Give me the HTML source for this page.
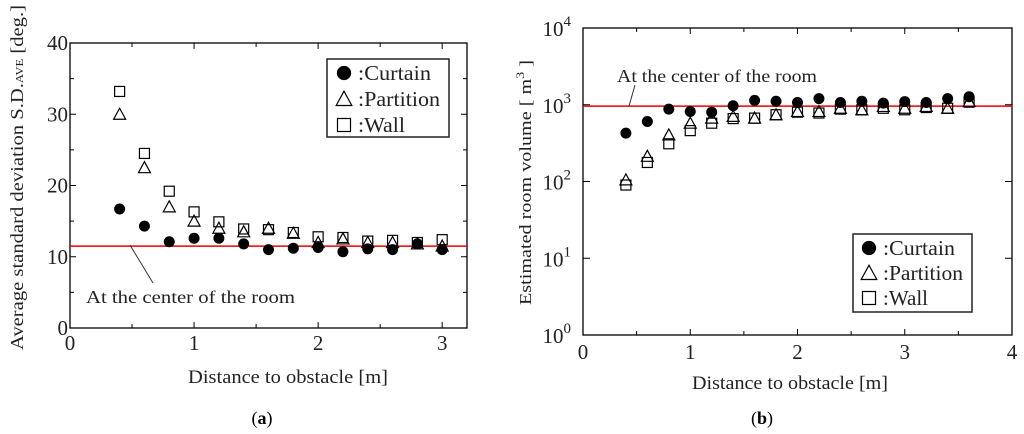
<!DOCTYPE html>
<html><head><meta charset="utf-8"><style>
html,body{margin:0;padding:0;background:#fff;}
svg{display:block;font-family:"Liberation Serif",serif;}
</style></head><body>
<svg id="fig" width="1024" height="434" viewBox="0 0 1024 434" xmlns="http://www.w3.org/2000/svg"></svg>
<script>
// ---- Chart (a) data ----
const xA = [0.4,0.6,0.8,1.0,1.2,1.4,1.6,1.8,2.0,2.2,2.4,2.6,2.8,3.0];
const curtainA = [16.7,14.3,12.1,12.6,12.6,11.8,11.0,11.2,11.3,10.7,11.1,11.0,11.8,11.0];
const partitionA = [30.0,22.5,17.0,15.0,14.0,13.5,14.0,13.3,12.0,12.5,12.0,12.0,11.8,11.5];
const wallA = [33.2,24.5,19.2,16.3,14.9,13.9,13.8,13.4,12.8,12.7,12.2,12.3,12.0,12.4];
const refA = [11.5];
const xTicksA = [0,1,2,3];
const yTicksA = [0,10,20,30,40];
// ---- Chart (b) data ----
const xB = [0.4,0.6,0.8,1.0,1.2,1.4,1.6,1.8,2.0,2.2,2.4,2.6,2.8,3.0,3.2,3.4,3.6];
const curtainB = [427,605,877,816,800,970,1140,1110,1070,1200,1070,1110,1050,1100,1070,1200,1270];
const partitionB = [105,213,404,575,670,706,670,741,816,816,900,860,950,900,950,900,1100];
const wallB = [90,177,310,460,575,660,670,741,800,780,877,860,900,860,920,900,1080];
const refB = [960];
const xTicksB = [0,1,2,3,4];
const yExpB = [0,1,2,3,4];

const NS="http://www.w3.org/2000/svg";
const svg=document.getElementById('fig');
function el(tag,attrs,parent){const e=document.createElementNS(NS,tag);for(const k in attrs)e.setAttribute(k,attrs[k]);(parent||svg).appendChild(e);return e;}
function marker(g,type,cx,cy,s){
  let m;
  if(type==='circle'){m=el('circle',{cx:cx,cy:cy,r:s*0.55,fill:'#000'},g);}
  else if(type==='tri'){m=el('polygon',{points:`${cx},${cy-s*0.6} ${cx-s*0.6},${cy+s*0.5} ${cx+s*0.6},${cy+s*0.5}`,fill:'none',stroke:'#000','stroke-width':1.2},g);}
  else{m=el('rect',{x:cx-s*0.5,y:cy-s*0.5,width:s,height:s,fill:'none',stroke:'#000','stroke-width':1.2},g);}
  return m;
}
const TL={lengthAdjust:'spacingAndGlyphs'};

// ===== Chart A =====
const A={l:70,r:467,t:43,b:328,xmax:3.2,ymax:40};
const xa=v=>A.l+v/A.xmax*(A.r-A.l);
const ya=v=>A.b-v/A.ymax*(A.b-A.t);
const gA=el('g',{});


const frA=el('rect',{x:A.l,y:A.t,width:A.r-A.l,height:A.b-A.t,fill:'none',stroke:'#000','stroke-width':1.3},gA);


for(let v=0;v<=3.2;v+=0.5){const x=xa(v);el('line',{x1:x,y1:A.b,x2:x,y2:A.b-(v%1===0?6:4),stroke:'#000'},gA);el('line',{x1:x,y1:A.t,x2:x,y2:A.t+(v%1===0?6:4),stroke:'#000'},gA);}
for(let v=0;v<=40;v+=5){const y=ya(v);el('line',{x1:A.l,y1:y,x2:A.l+(v%10===0?6:4),y2:y,stroke:'#000'},gA);el('line',{x1:A.r,y1:y,x2:A.r-(v%10===0?6:4),y2:y,stroke:'#000'},gA);}
xTicksA.forEach(v=>{const t=el('text',{x:xa(v),y:A.b+22,'font-size':21,'text-anchor':'middle',fill:'#222'},gA);t.textContent=v;

});
yTicksA.forEach(v=>{const t=el('text',{x:A.l-2,y:ya(v)+7,'font-size':21,'text-anchor':'end',fill:'#222'},gA);t.textContent=v;

});
const rlA=el('line',{x1:A.l,y1:ya(refA[0]),x2:A.r,y2:ya(refA[0]),stroke:'#e00','stroke-width':1.5},gA);


el('line',{x1:130,y1:ya(refA[0])-1,x2:153,y2:283,stroke:'#333','stroke-width':1},gA);
const anA=el('text',{x:86,y:303,'font-size':18,fill:'#222',textLength:209,lengthAdjust:'spacingAndGlyphs'},gA);anA.textContent='At the center of the room';


[[wallA,'rect'],[partitionA,'tri'],[curtainA,'circle']].forEach(([arr,tp])=>{
  arr.forEach((v,i)=>{const m=marker(gA,tp,xa(xA[i]),ya(v),10);
  
  });
});
const lgA=el('g',{},gA);


el('rect',{x:327,y:59,width:122,height:78,fill:'#fff',stroke:'#222','stroke-width':1.5},lgA);
const lwA=[73,82,47];
[['circle','Curtain'],['tri','Partition'],['rect','Wall']].forEach(([tp,lab],i)=>{
  const cy=73+i*26;marker(lgA,tp,344,cy,13);
  const t=el('text',{x:358,y:cy+7,'font-size':21,fill:'#222',textLength:lwA[i],lengthAdjust:'spacingAndGlyphs'},lgA);t.textContent=':'+lab;
  
  
});
const xtA=el('text',{x:188,y:383,'font-size':19,fill:'#222',textLength:200,lengthAdjust:'spacingAndGlyphs'},gA);xtA.textContent='Distance to obstacle [m]';


const ytA=el('text',{transform:'translate(23,350) rotate(-90)','font-size':18,fill:'#222',textLength:345,lengthAdjust:'spacingAndGlyphs'},gA);
ytA.innerHTML='Average standard deviation S.D.<tspan font-size="11">AVE</tspan> [deg.]';


const capA=el('text',{x:262,y:424,'font-size':18,'text-anchor':'middle',fill:'#000'},gA);capA.innerHTML='(<tspan font-weight="bold">a</tspan>)';



// ===== Chart B =====
const B={l:583,r:1012,t:28,b:335,xmax:4,dmax:4};
const xb=v=>B.l+v/B.xmax*(B.r-B.l);
const yb=v=>B.b-Math.log10(v)/B.dmax*(B.b-B.t);
const gB=el('g',{});


const frB=el('rect',{x:B.l,y:B.t,width:B.r-B.l,height:B.b-B.t,fill:'none',stroke:'#000','stroke-width':1.3},gB);


for(let v=0;v<=4;v+=0.5){const x=xb(v);el('line',{x1:x,y1:B.b,x2:x,y2:B.b-(v%1===0?6:4),stroke:'#000'},gB);el('line',{x1:x,y1:B.t,x2:x,y2:B.t+(v%1===0?6:4),stroke:'#000'},gB);}
yExpB.forEach(e=>{const y=yb(Math.pow(10,e));el('line',{x1:B.l,y1:y,x2:B.l+7,y2:y,stroke:'#000'},gB);el('line',{x1:B.r,y1:y,x2:B.r-7,y2:y,stroke:'#000'},gB);
  const t=el('text',{x:B.l-12,y:y+8,'font-size':21,'text-anchor':'end',fill:'#222'},gB);t.innerHTML='10<tspan dy="-10" font-size="15">'+e+'</tspan>';
  
  });
xTicksB.forEach(v=>{const t=el('text',{x:xb(v),y:B.b+24,'font-size':21,'text-anchor':'middle',fill:'#222'},gB);t.textContent=v;

});
const rlB=el('line',{x1:B.l,y1:yb(refB[0]),x2:B.r,y2:yb(refB[0]),stroke:'#e00','stroke-width':1.5},gB);


el('line',{x1:635,y1:85,x2:629,y2:yb(refB[0]),stroke:'#333','stroke-width':1},gB);
const anB=el('text',{x:617,y:82,'font-size':18,fill:'#222',textLength:200,lengthAdjust:'spacingAndGlyphs'},gB);anB.textContent='At the center of the room';


[[wallB,'rect'],[partitionB,'tri'],[curtainB,'circle']].forEach(([arr,tp])=>{
  arr.forEach((v,i)=>{const m=marker(gB,tp,xb(xB[i]),yb(v),10);
  
  });
});
const lgB=el('g',{},gB);


el('rect',{x:853,y:234,width:119,height:78,fill:'#fff',stroke:'#222','stroke-width':1.5},lgB);
const lwB=[72,80,45];
[['circle','Curtain'],['tri','Partition'],['rect','Wall']].forEach(([tp,lab],i)=>{
  const cy=248+i*25;marker(lgB,tp,869,cy,13);
  const t=el('text',{x:883,y:cy+7,'font-size':21,fill:'#222',textLength:lwB[i],lengthAdjust:'spacingAndGlyphs'},lgB);t.textContent=':'+lab;
  
  
});
const xtB=el('text',{x:692,y:389,'font-size':19,fill:'#222',textLength:196,lengthAdjust:'spacingAndGlyphs'},gB);xtB.textContent='Distance to obstacle [m]';


const ytB=el('text',{transform:'translate(531,305) rotate(-90)','font-size':17,fill:'#222',textLength:245,lengthAdjust:'spacingAndGlyphs'},gB);
ytB.innerHTML='Estimated room volume [ m<tspan dy="-7" font-size="12">3</tspan><tspan dy="7"> ]</tspan>';


const capB=el('text',{x:762,y:424,'font-size':18,'text-anchor':'middle',fill:'#000'},gB);capB.innerHTML='(<tspan font-weight="bold">b</tspan>)';


</script>
</body></html>
